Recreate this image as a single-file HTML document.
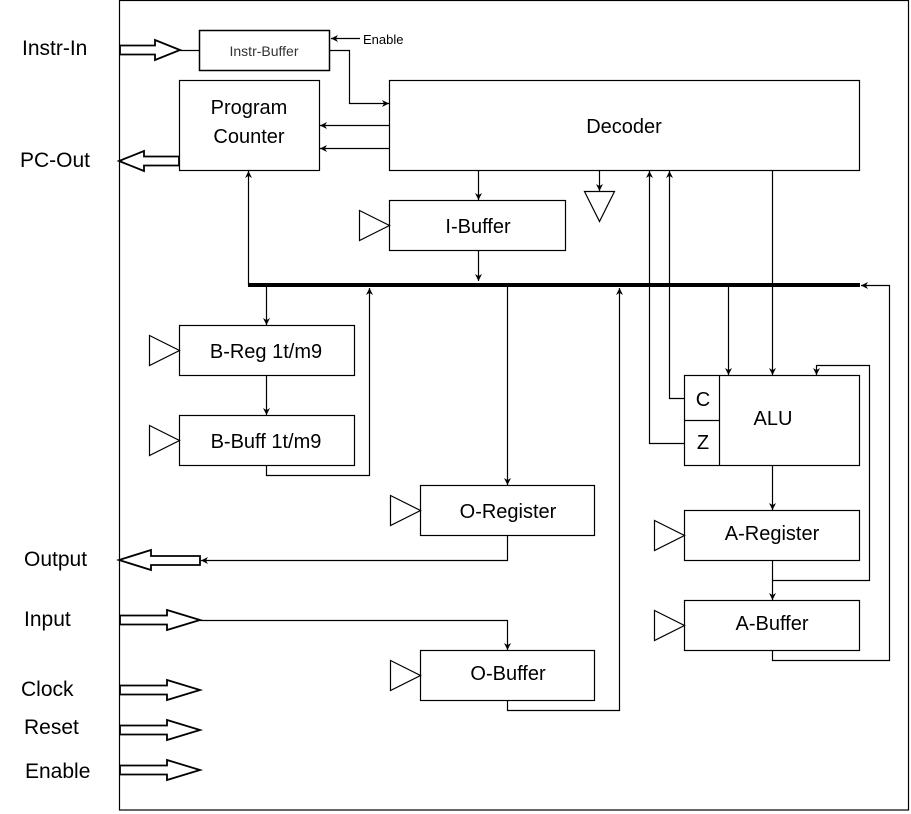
<!DOCTYPE html>
<html><head><meta charset="utf-8"><style>
html,body{margin:0;padding:0;background:#fff;}
svg{display:block;}
text{font-family:"Liberation Sans",sans-serif;fill:#000;}
</style></head><body>
<svg width="911" height="814" viewBox="0 0 911 814" xmlns="http://www.w3.org/2000/svg">
<defs>
<marker id="a" viewBox="0 0 10 10" refX="10" refY="5" markerWidth="7" markerHeight="7" orient="auto-start-reverse" markerUnits="userSpaceOnUse">
<path d="M0,0 L10,5 L0,10 L3,5 Z" fill="#000"/></marker>
</defs>
<g fill="none" stroke="#000" stroke-width="1.2">
<rect x="119.5" y="0.5" width="789" height="809.5"/>
<rect x="199.5" y="30.5" width="130" height="40" stroke-width="1.5"/>
<rect x="179.5" y="80.5" width="140" height="90"/>
<rect x="389.5" y="80.5" width="470" height="90"/>
<rect x="389.5" y="200.5" width="176" height="50"/>
<rect x="179.5" y="325.5" width="175" height="50"/>
<rect x="179.5" y="415.5" width="175" height="50"/>
<rect x="420.5" y="485.5" width="174" height="50"/>
<rect x="420.5" y="650.5" width="174" height="50"/>
<rect x="684.5" y="375.5" width="175" height="90"/>
<line x1="719.5" y1="375.5" x2="719.5" y2="465.5"/>
<line x1="684.5" y1="420.5" x2="719.5" y2="420.5"/>
<rect x="684.5" y="510.5" width="175" height="50"/>
<rect x="684.5" y="600.5" width="175" height="50"/>
<path d="M359.5,210.5 L389.5,225.5 L359.5,240.5 Z"/>
<path d="M149.5,335.5 L179.5,350.5 L149.5,365.5 Z"/>
<path d="M149.5,425.5 L179.5,440.5 L149.5,455.5 Z"/>
<path d="M390.5,495.5 L420.5,510.5 L390.5,525.5 Z"/>
<path d="M390.5,660.5 L420.5,675.5 L390.5,690.5 Z"/>
<path d="M654.5,520.5 L684.5,535.5 L654.5,550.5 Z"/>
<path d="M654.5,610.5 L684.5,625.5 L654.5,640.5 Z"/>
<path d="M584.5,191.5 L614.5,191.5 L599.5,221.5 Z"/>
<g stroke-width="1.8" fill="#fff">
<path d="M120,45.5 L155,45.5 L155,40 L180,50 L155,60 L155,54.5 L120,54.5 Z"/>
<path d="M179,156.5 L144,156.5 L144,151 L119,161 L144,171 L144,165.5 L179,165.5 Z"/>
<path d="M200,556 L151,556 L151,550 L119,560 L151,570 L151,565 L200,565 Z"/>
<path d="M120,615.5 L167,615.5 L167,610 L200,620 L167,630 L167,624.5 L120,624.5 Z"/>
<path d="M120,685.5 L167,685.5 L167,680 L200,690 L167,700 L167,694.5 L120,694.5 Z"/>
<path d="M120,725.5 L167,725.5 L167,720 L200,730 L167,740 L167,734.5 L120,734.5 Z"/>
<path d="M120,765.5 L167,765.5 L167,760 L200,770 L167,780 L167,774.5 L120,774.5 Z"/>
</g>
<line x1="248" y1="285" x2="860" y2="285" stroke-width="4"/>
<line x1="180" y1="50.5" x2="199" y2="50.5"/>
<line x1="360" y1="38.5" x2="331" y2="38.5" marker-end="url(#a)"/>
<polyline points="329.5,50.5 349.5,50.5 349.5,103.5 389,103.5" marker-end="url(#a)"/>
<line x1="389" y1="125.5" x2="320" y2="125.5" marker-end="url(#a)"/>
<line x1="389" y1="148.5" x2="320" y2="148.5" marker-end="url(#a)"/>
<line x1="478.5" y1="171" x2="478.5" y2="200" marker-end="url(#a)"/>
<line x1="478.5" y1="251" x2="478.5" y2="281" marker-end="url(#a)"/>
<line x1="599.5" y1="171" x2="599.5" y2="191" marker-end="url(#a)"/>
<line x1="248.5" y1="285" x2="248.5" y2="171" marker-end="url(#a)"/>
<line x1="266.5" y1="287" x2="266.5" y2="325" marker-end="url(#a)"/>
<line x1="266.5" y1="376" x2="266.5" y2="415" marker-end="url(#a)"/>
<polyline points="266.5,466 266.5,475.5 369.5,475.5 369.5,288" marker-end="url(#a)"/>
<line x1="507.5" y1="287" x2="507.5" y2="485" marker-end="url(#a)"/>
<polyline points="507.5,536 507.5,560.5 201,560.5" marker-end="url(#a)"/>
<polyline points="200,620.5 507.5,620.5 507.5,650" marker-end="url(#a)"/>
<polyline points="507.5,701 507.5,710.5 619.5,710.5 619.5,288" marker-end="url(#a)"/>
<polyline points="684,398.5 669.5,398.5 669.5,171" marker-end="url(#a)"/>
<polyline points="684,443.5 649.5,443.5 649.5,171" marker-end="url(#a)"/>
<line x1="728.5" y1="287" x2="728.5" y2="375" marker-end="url(#a)"/>
<line x1="772.5" y1="171" x2="772.5" y2="375" marker-end="url(#a)"/>
<polyline points="772.5,580.5 869.5,580.5 869.5,365.5 816.5,365.5 816.5,375" marker-end="url(#a)"/>
<line x1="772.5" y1="466" x2="772.5" y2="510" marker-end="url(#a)"/>
<line x1="772.5" y1="561" x2="772.5" y2="600" marker-end="url(#a)"/>
<polyline points="772.5,651 772.5,660.5 889.5,660.5 889.5,285.5 861,285.5" marker-end="url(#a)"/>
</g>
<g font-size="21">
<text x="22" y="55">Instr-In</text>
<text x="20" y="167">PC-Out</text>
<text x="24" y="566">Output</text>
<text x="24" y="626">Input</text>
<text x="21" y="696">Clock</text>
<text x="24" y="734">Reset</text>
<text x="25" y="778">Enable</text>
</g>
<g font-size="20" text-anchor="middle">
<text x="249" y="114">Program</text>
<text x="249" y="143">Counter</text>
<text x="624" y="133">Decoder</text>
<text x="478" y="233">I-Buffer</text>
<text x="266" y="358">B-Reg 1t/m9</text>
<text x="266" y="448">B-Buff 1t/m9</text>
<text x="508" y="518">O-Register</text>
<text x="508" y="680">O-Buffer</text>
<text x="773" y="425">ALU</text>
<text x="703" y="406">C</text>
<text x="703" y="449">Z</text>
<text x="772" y="540">A-Register</text>
<text x="772" y="630">A-Buffer</text>
</g>
<text x="264" y="56" font-size="14" text-anchor="middle" style="fill:#333">Instr-Buffer</text>
<text x="363" y="44" font-size="13">Enable</text>
</svg>
</body></html>
